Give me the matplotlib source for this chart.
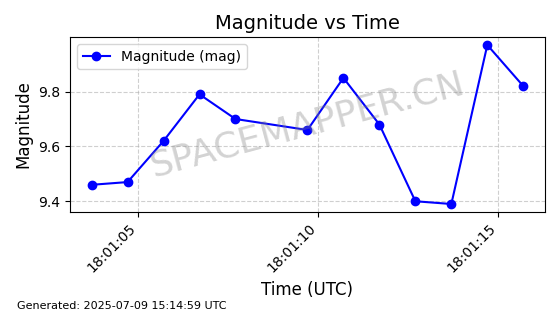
import matplotlib
matplotlib.use("Agg")
from matplotlib import pyplot as plt
import matplotlib.dates as mdates
import pandas as pd

times = ['18:01:03.7', '18:01:04.7', '18:01:05.7', '18:01:06.7', '18:01:07.7', '18:01:09.7',
         '18:01:10.7', '18:01:11.7', '18:01:12.7', '18:01:13.7', '18:01:14.7', '18:01:15.7']
magnitudes = [9.46, 9.47, 9.62, 9.79, 9.70, 9.66, 9.85, 9.68, 9.40, 9.39, 9.97, 9.82]

dates = pd.to_datetime(['2025-07-09 ' + t for t in times])

fig, ax = plt.subplots(figsize=(5.6, 3.14), dpi=100)
fig.subplots_adjust(left=0.125, right=0.973, top=0.882, bottom=0.325)

ax.plot(dates, magnitudes, 'o-', color='blue', markersize=6, linewidth=1.5, label='Magnitude (mag)')

ax.set_title('Magnitude vs Time', fontsize=14)
ax.set_xlabel('Time (UTC)', fontsize=12)
ax.set_ylabel('Magnitude', fontsize=12)
ax.xaxis.set_major_locator(mdates.SecondLocator(bysecond=[5, 10, 15]))
ax.xaxis.set_major_formatter(mdates.DateFormatter('%H:%M:%S'))
plt.setp(ax.get_xticklabels(), rotation=45, ha='right')
ax.grid(True, linestyle='--', alpha=0.6)
ax.legend(loc='upper left')

ax.text(0.5, 0.5, 'SPACEMAPPER.CN', transform=ax.transAxes, fontsize=26, color='gray',
        alpha=0.35, rotation=15, ha='center', va='center')

fig.text(0.03, 0.015, 'Generated: 2025-07-09 15:14:59 UTC', fontsize=8)

plt.savefig('out.png')
